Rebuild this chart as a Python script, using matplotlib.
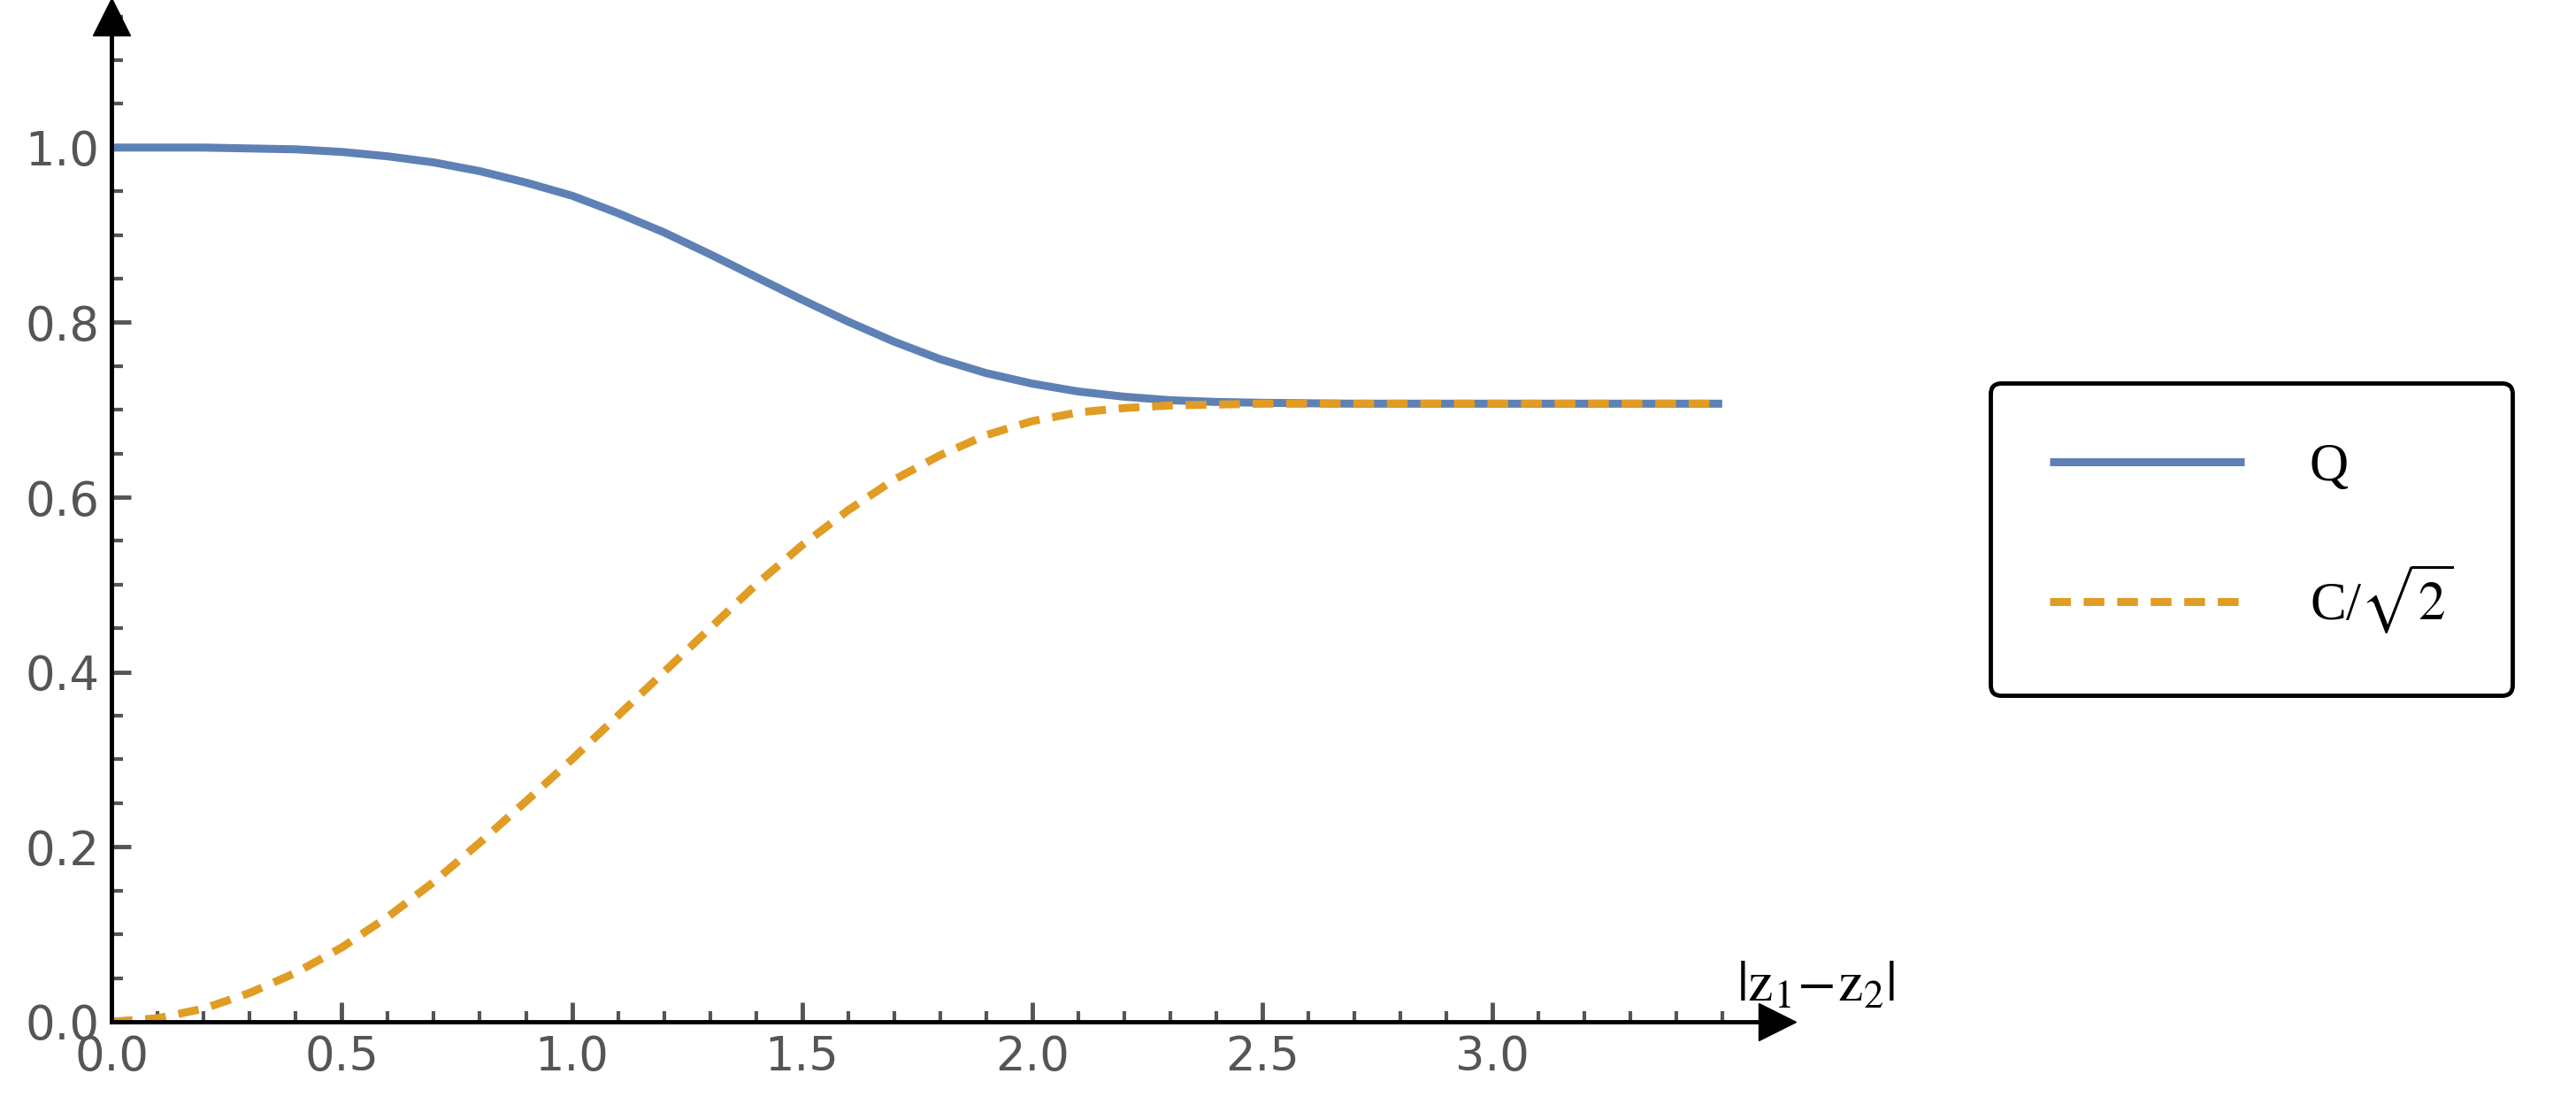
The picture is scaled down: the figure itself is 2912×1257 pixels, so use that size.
import matplotlib
matplotlib.use("Agg")
import matplotlib.pyplot as plt
from matplotlib.ticker import MultipleLocator
import numpy as np

x = [0.0, 0.1, 0.2, 0.3, 0.4, 0.5, 0.6, 0.7, 0.8, 0.9, 1.0, 1.1, 1.2, 1.3, 1.4, 1.5,
     1.6, 1.7, 1.8, 1.9, 2.0, 2.1, 2.2, 2.3, 2.4, 2.5, 2.7, 3.0, 3.3, 3.5]
Q = [1.0, 1.0, 1.0, 0.999, 0.998, 0.995, 0.99, 0.983, 0.973, 0.96, 0.945, 0.925, 0.903,
     0.878, 0.852, 0.826, 0.801, 0.778, 0.758, 0.742, 0.730, 0.721, 0.715, 0.711, 0.709,
     0.708, 0.707, 0.707, 0.707, 0.707]
C2 = [0.0, 0.004, 0.015, 0.033, 0.056, 0.085, 0.12, 0.16, 0.205, 0.252, 0.30, 0.35, 0.40,
      0.45, 0.50, 0.545, 0.585, 0.62, 0.648, 0.671, 0.687, 0.697, 0.702, 0.705, 0.706,
      0.707, 0.707, 0.707, 0.707, 0.707]

plt.rcParams['mathtext.fontset'] = 'stix'
fig = plt.figure(figsize=(29.12, 12.57), dpi=100)
ax = fig.add_axes([0.0434, 0.0812, 0.6466, 0.904])
ax.set_xlim(0, 3.62)
ax.set_ylim(0, 1.15)

lq, = ax.plot(x, Q, color='#5E81B5', lw=6.5, label='Q', solid_capstyle='butt')
lc, = ax.plot(x, C2, color='#E19C24', lw=6.5, ls=(0, (2.6, 1.6)), label=r'C/$\sqrt{2}$')

for s in ['top', 'right']:
    ax.spines[s].set_visible(False)
for s in ['left', 'bottom']:
    ax.spines[s].set_linewidth(3.5)
ax.plot(1, 0, '>', color='k', ms=30, transform=ax.transAxes, clip_on=False)
ax.plot(0, 1, '^', color='k', ms=30, transform=ax.transAxes, clip_on=False)

ax.xaxis.set_minor_locator(MultipleLocator(0.1))
ax.yaxis.set_minor_locator(MultipleLocator(0.05))
ax.set_xticks([0.0, 0.5, 1.0, 1.5, 2.0, 2.5, 3.0])
ax.set_yticks([0.0, 0.2, 0.4, 0.6, 0.8, 1.0])
ax.set_xticklabels(['0.0', '0.5', '1.0', '1.5', '2.0', '2.5', '3.0'])
ax.set_yticklabels(['0.0', '0.2', '0.4', '0.6', '0.8', '1.0'])
ax.tick_params(which='major', direction='in', length=16, width=3.5, color='#555555',
               labelsize=38, labelcolor='#555555', pad=10)
ax.tick_params(which='minor', direction='in', length=9, width=3, color='#555555')

fig.text(0.705, 0.114, r'$|\mathrm{z}_1\!-\!\mathrm{z}_2|$', fontsize=46, ha='center', va='center')

leg = fig.legend(handles=[lq, lc], loc='center', bbox_to_anchor=(0.874, 0.515),
                 prop={'family': 'Liberation Serif', 'size': 44}, handlelength=3.6,
                 borderpad=1.1, labelspacing=1.3, handletextpad=1.2, fancybox=True,
                 framealpha=1, edgecolor='black', borderaxespad=0)
leg.get_frame().set_linewidth(3.5)
fig.savefig('out.png', dpi=100)
